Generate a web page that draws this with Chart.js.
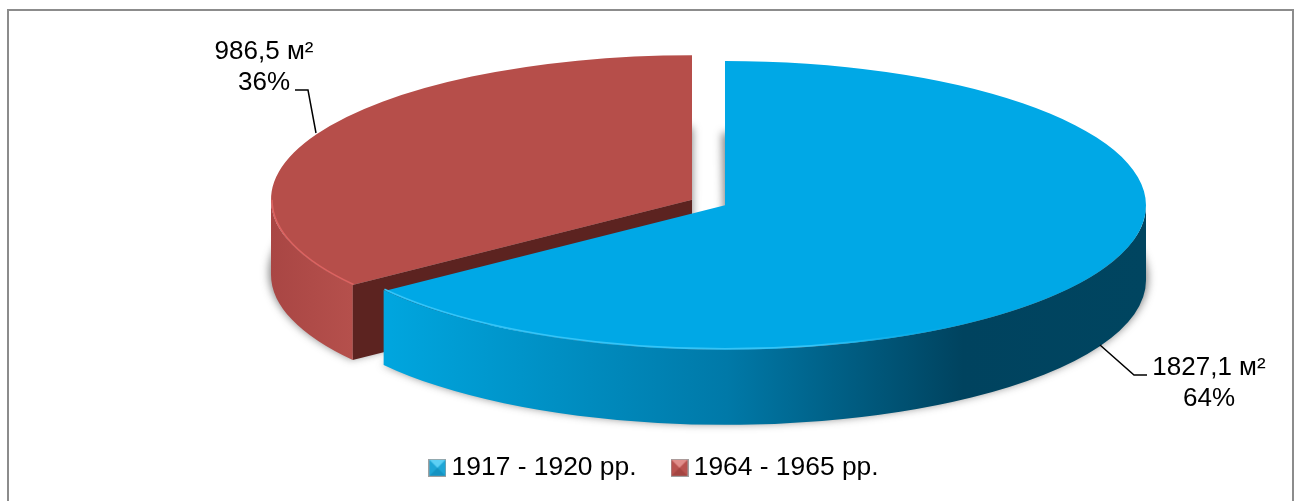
<!DOCTYPE html>
<html>
<head>
<meta charset="utf-8">
<script src="https://cdn.jsdelivr.net/npm/chart.js@4"></script>
<style>
    html, body { margin: 0; padding: 0; background: #fff; overflow: hidden; }
    #wrap { position: relative; width: 1296px; height: 501px; }
    #frame {
        position: absolute; left: 7px; top: 9px; width: 1283px; height: 492px;
        border-left: 2px solid #8c8c8c; border-top: 2px solid #8c8c8c; border-right: 2px solid #8c8c8c;
        box-sizing: content-box;
    }
</style>
</head>
<body>
<div id="wrap">
    <div id="frame"></div>
    <canvas id="myChart" width="1296" height="501"></canvas>
</div>
<script>
const categories = ['1917 - 1920 рр.', '1964 - 1965 рр.'];
const areaValues = [1827.1, 986.5];
const sharePercent = [64, 36];
const sliceColors = ['#00a8e6', '#b64e4a'];
const rimColors = ['#35c4f7', '#dc6361'];
const legendShades = [
    ['#5cd0f5', '#1ea6d6', '#1ea6d6', '#1593c2'],
    ['#e08e8a', '#b9534f', '#b9534f', '#a44541']
];

// where the squashed pie sits on the page
const CX = 708.5;
const CY = 202.5;
const SQUASH = 0.343;
const DEPTH = 75;
const RADIUS = 421;
const OFFSET = 74;

function legendIcon(shades) {
    const c = document.createElement('canvas');
    c.width = 18;
    c.height = 18;
    const g = c.getContext('2d');
    const tri = (color, x1, y1, x2, y2) => {
        g.fillStyle = color;
        g.beginPath();
        g.moveTo(x1, y1);
        g.lineTo(x2, y2);
        g.lineTo(9, 9);
        g.closePath();
        g.fill();
    };
    g.fillStyle = shades[1];
    g.fillRect(1, 1, 16, 16);
    tri(shades[3], 1, 17, 17, 17);
    tri(shades[0], 1, 1, 17, 1);
    g.strokeStyle = '#a0a0a0';
    g.strokeRect(0.5, 0.5, 17, 17);
    return c;
}

// how much the arc element grows its drawn radius for an offset
function radiusGrowth(arc) {
    const fix = 1 - Math.sin(Math.min(Math.PI, arc.circumference || 0));
    return (OFFSET / 4) * fix;
}

function arcShape(arc) {
    const p = arc.getProps(['startAngle', 'endAngle']);
    const mid = (p.startAngle + p.endAngle) / 2;
    const off = OFFSET / 4;
    return {
        start: p.startAngle,
        end: p.endAngle,
        r: RADIUS,
        x: CX + Math.cos(mid) * off,
        y: CY + Math.sin(mid) * off * SQUASH
    };
}

function sidePath(ctx, s, a, b) {
    ctx.beginPath();
    ctx.ellipse(s.x, s.y, s.r, s.r * SQUASH, 0, a, b);
    ctx.ellipse(s.x, s.y + DEPTH, s.r, s.r * SQUASH, 0, b, a, true);
    ctx.closePath();
}

const pie3d = {
    id: 'pie3d',
    afterDatasetsUpdate(chart) {
        // undo the radius growth and angle trim so both slices keep one radius
        chart.getDatasetMeta(0).data.forEach((arc) => {
            const grow = radiusGrowth(arc);
            const trim = grow / Math.PI / RADIUS / 2;
            arc.outerRadius = RADIUS - grow;
            arc.startAngle -= trim;
            arc.endAngle += trim;
        });
    },
    beforeDatasetsDraw(chart) {
        const ctx = chart.ctx;
        const arcs = chart.getDatasetMeta(0).data;
        const shapes = arcs.map(arcShape);
        const blue = shapes[0];
        const red = shapes[1];

        // soft ground shadow
        ctx.save();
        ctx.filter = 'blur(4px)';
        ctx.fillStyle = 'rgba(50,50,50,0.6)';
        shapes.forEach((s) => {
            ctx.beginPath();
            ctx.moveTo(s.x, s.y + DEPTH - 2);
            ctx.ellipse(s.x, s.y + DEPTH - 2, s.r + 2, s.r * SQUASH + 1, 0, s.start, s.end);
            ctx.closePath();
            ctx.fill();
        });
        ctx.restore();

        // red slice: cut face, then its round side
        const cornerX = red.x + Math.cos(red.start) * red.r;
        const cornerY = red.y + Math.sin(red.start) * red.r * SQUASH;
        ctx.fillStyle = '#5c2320';
        ctx.beginPath();
        ctx.moveTo(cornerX, cornerY);
        ctx.lineTo(red.x, red.y);
        ctx.lineTo(red.x, red.y + DEPTH);
        ctx.lineTo(cornerX, cornerY + DEPTH);
        ctx.closePath();
        ctx.fill();

        const redSide = ctx.createLinearGradient(red.x - red.r, 0, cornerX, 0);
        redSide.addColorStop(0, '#a94644');
        redSide.addColorStop(1, '#b5504c');
        ctx.fillStyle = redSide;
        sidePath(ctx, red, red.start, Math.PI);
        ctx.fill();

        // blue slice round side
        const blueLeft = blue.x + Math.cos(blue.end) * blue.r;
        const blueSide = ctx.createLinearGradient(blueLeft, 0, blue.x + blue.r, 0);
        blueSide.addColorStop(0, '#00a6df');
        blueSide.addColorStop(0.45, '#0079a8');
        blueSide.addColorStop(0.76, '#00435f');
        blueSide.addColorStop(1, '#004560');
        ctx.fillStyle = blueSide;
        sidePath(ctx, blue, 0, blue.end);
        ctx.fill();

        // the library draws the top faces through this squash
        const first = arcs[0];
        ctx.save();
        ctx.translate(CX, CY);
        ctx.scale(1, SQUASH);
        ctx.translate(-first.x, -first.y);
    },
    afterDatasetsDraw(chart) {
        const ctx = chart.ctx;
        ctx.restore();
        const shapes = chart.getDatasetMeta(0).data.map(arcShape);

        // light rim along the front edge of the top faces
        ctx.save();
        ctx.lineWidth = 1.5;
        const blue = shapes[0];
        const rimFade = ctx.createLinearGradient(blue.x - blue.r, 0, blue.x + 260, 0);
        rimFade.addColorStop(0, rimColors[0]);
        rimFade.addColorStop(0.75, rimColors[0]);
        rimFade.addColorStop(1, 'rgba(0,168,230,0)');
        ctx.strokeStyle = rimFade;
        ctx.beginPath();
        ctx.ellipse(blue.x, blue.y, blue.r - 1, blue.r * SQUASH - 1, 0, Math.PI / 4, blue.end);
        ctx.stroke();
        const red = shapes[1];
        ctx.strokeStyle = rimColors[1];
        ctx.beginPath();
        ctx.ellipse(red.x, red.y, red.r - 1, red.r * SQUASH - 1, 0, red.start, Math.PI);
        ctx.stroke();
        ctx.restore();

        // leader lines
        ctx.save();
        ctx.strokeStyle = '#000';
        ctx.lineWidth = 1.5;
        ctx.beginPath();
        ctx.moveTo(1100, 345);
        ctx.lineTo(1134, 375);
        ctx.lineTo(1147, 375);
        ctx.moveTo(295, 90);
        ctx.lineTo(308, 90);
        ctx.lineTo(316, 133);
        ctx.stroke();

        // value labels
        ctx.fillStyle = '#000';
        ctx.font = '26px "Liberation Sans"';
        ctx.textAlign = 'center';
        ctx.textBaseline = 'alphabetic';
        const labelText = (i) => areaValues[i].toFixed(1).replace('.', ',') + ' м²';
        ctx.fillText(labelText(0), 1209, 375);
        ctx.fillText(sharePercent[0] + '%', 1209, 406);
        ctx.fillText(labelText(1), 264, 59);
        ctx.fillText(sharePercent[1] + '%', 264, 90);
        ctx.restore();
    }
};

const data = {
    labels: categories,
    datasets: [{
        data: areaValues,
        backgroundColor: sliceColors,
        borderWidth: 0,
        offset: OFFSET,
        radius: RADIUS,
        clip: false
    }]
};

const config = {
    type: 'pie',
    data: data,
    plugins: [pie3d],
    options: {
        responsive: false,
        animation: false,
        layout: { padding: { left: 19, right: 0, top: 0, bottom: 10 } },
        plugins: {
            tooltip: { enabled: false },
            legend: {
                position: 'bottom',
                labels: {
                    usePointStyle: true,
                    pointStyleWidth: 2,
                    padding: 42,
                    color: '#000',
                    font: { family: '"Liberation Sans"', size: 26.4 },
                    generateLabels(chart) {
                        return categories.map((name, i) => ({
                            text: name,
                            pointStyle: legendIcon(legendShades[i]),
                            fillStyle: sliceColors[i],
                            strokeStyle: sliceColors[i],
                            lineWidth: 0,
                            fontColor: '#000',
                            index: i
                        }));
                    }
                }
            }
        }
    }
};

const myChart = new Chart(document.getElementById('myChart'), config);
</script>
</body>
</html>
